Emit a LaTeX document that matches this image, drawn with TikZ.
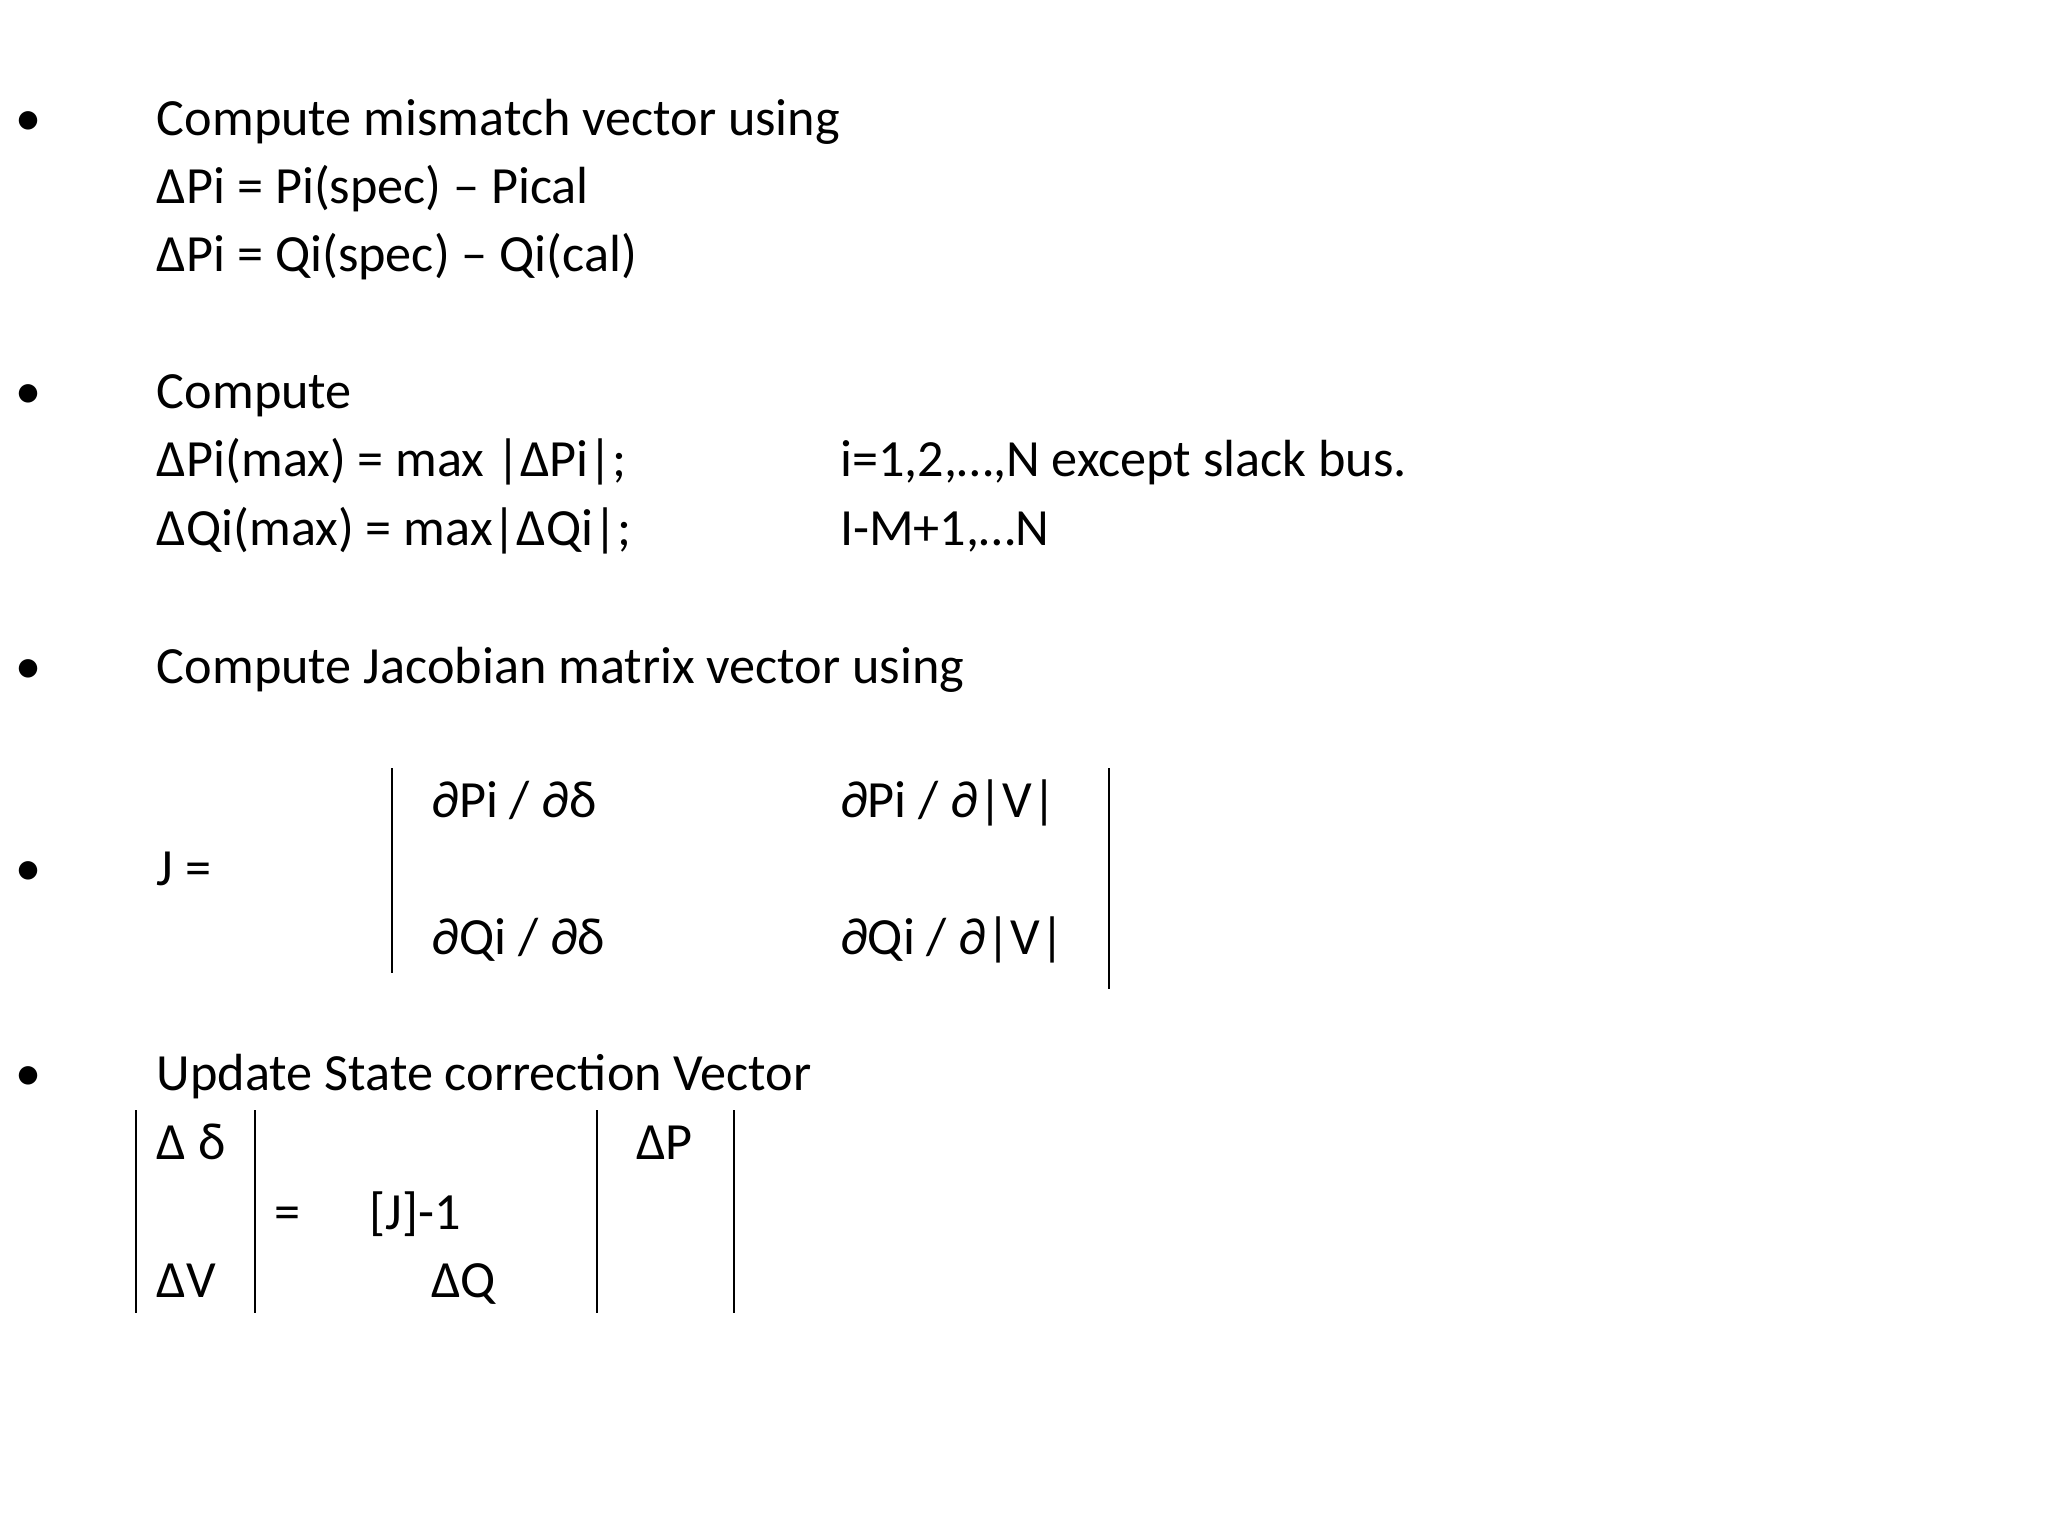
\documentclass[tikz,border=0pt]{standalone}
\usepackage{fontspec}
\setmainfont{Carlito}
\begin{document}
\begin{tikzpicture}[x=1pt,y=-1pt,
  t/.style={anchor=base west,inner sep=0pt,font=\fontsize{40}{48}\selectfont},
  bar/.style={line width=1.5pt}]
\useasboundingbox (0,0) rectangle (1568,1176);
\foreach \y/\n in {91/b1,300/b2,510/b3,665/b4,822/b5}
  \node[t] (\n) at (12,\y+13) {•};
\node[t] (l1) at (120,104) {Compute mismatch vector using};
\node[t] (l2) at (120,156) {ΔPi = Pi(spec) – Pical};
\node[t] (l3) at (120,208) {ΔPi = Qi(spec) – Qi(cal)};
\node[t] (l4) at (120,313) {Compute};
\node[t] (l5) at (120,365) {ΔPi(max) = max |ΔPi|;};
\node[t] (l5b) at (643,365) {i=1,2,…,N except slack bus.};
\node[t] (l6) at (120,418) {ΔQi(max) = max|ΔQi|;};
\node[t] (l6b) at (643,418) {I-M+1,…N};
\node[t] (l7) at (120,523) {Compute Jacobian matrix vector using};
\node[t] (j) at (120,678) {J =};
\node[t] (m11) at (330,626) {∂Pi / ∂δ};
\node[t] (m12) at (643,626) {∂Pi / ∂|V|};
\node[t] (m21) at (330,731) {∂Qi / ∂δ};
\node[t] (m22) at (643,731) {∂Qi / ∂|V|};
\coordinate (ja) at (300,588); \coordinate (jb) at (300,745);
\coordinate (jc) at (849,588); \coordinate (jd) at (849,757);
\draw[bar] (ja) -- (jb); \draw[bar] (jc) -- (jd);
\node[t] (l8) at (120,835) {Update State correction Vector};
\node[t] (dd) at (120,888) {Δ δ};
\node[t] (dv) at (120,993) {ΔV};
\node[t] (eq) at (210,941) {=};
\node[t] (ji) at (283,941) {[J]-1};
\node[t] (dq) at (330,993) {ΔQ};
\node[t] (dp) at (487,888) {ΔP};
\foreach \x/\n in {104/a,195/b,457/c,562/d}{
  \coordinate (\n1) at (\x,850); \coordinate (\n2) at (\x,1005);
  \draw[bar] (\n1) -- (\n2);}
\end{tikzpicture}
\end{document}
